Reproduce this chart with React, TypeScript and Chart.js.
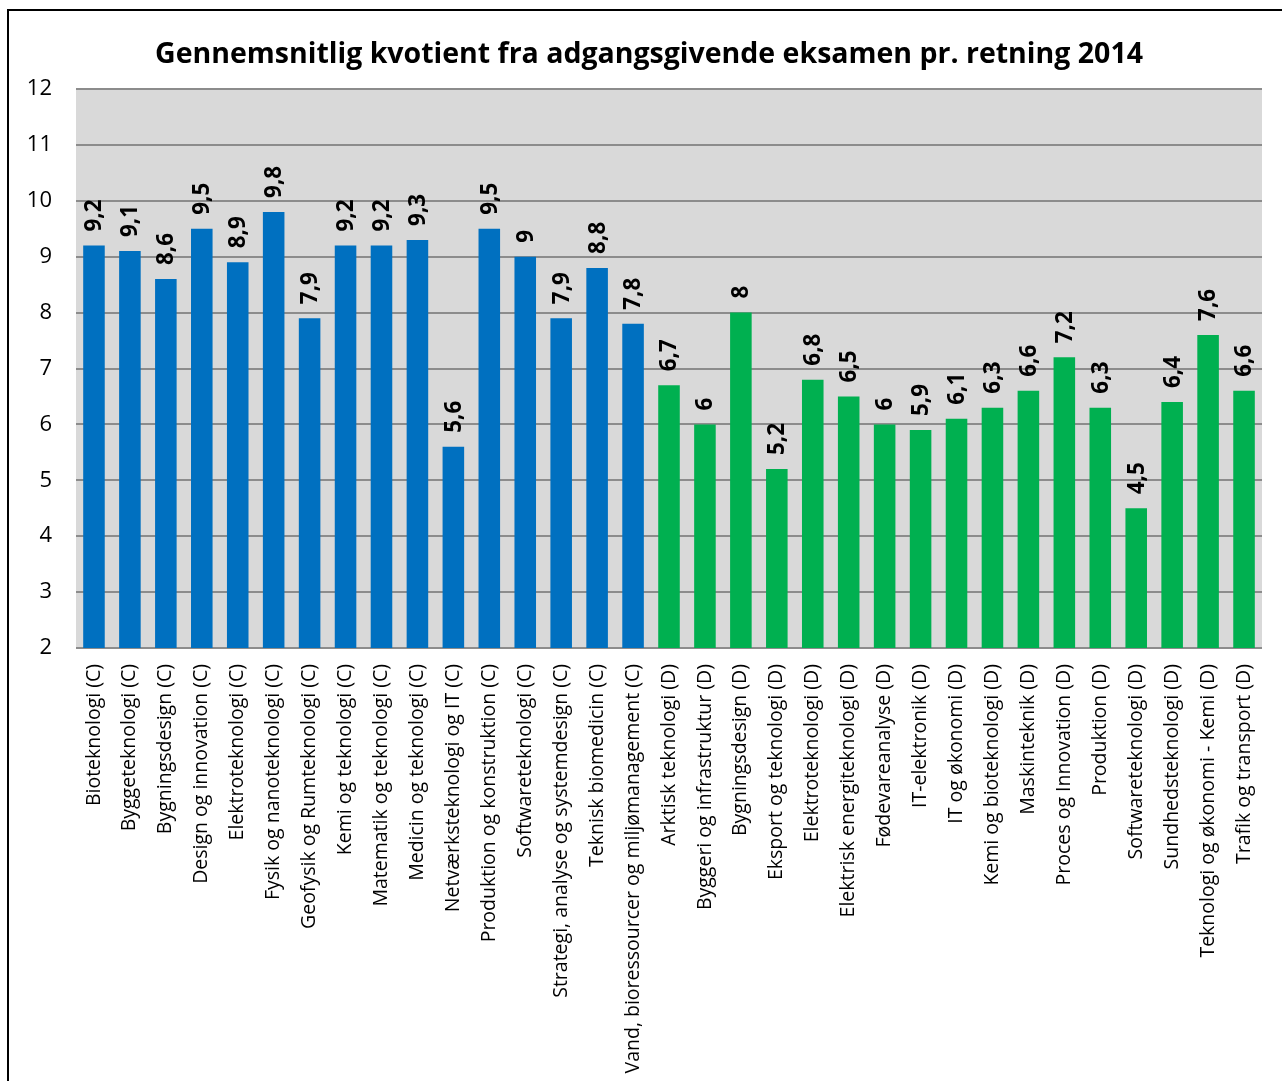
import React, { useEffect, useRef } from "react";
import { Chart, registerables } from "chart.js";

Chart.register(...registerables);

const categoriesC = [
  "Bioteknologi (C)",
  "Byggeteknologi (C)",
  "Bygningsdesign (C)",
  "Design og innovation (C)",
  "Elektroteknologi (C)",
  "Fysik og nanoteknologi (C)",
  "Geofysik og Rumteknologi (C)",
  "Kemi og teknologi (C)",
  "Matematik og teknologi (C)",
  "Medicin og teknologi (C)",
  "Netværksteknologi og IT (C)",
  "Produktion og konstruktion (C)",
  "Softwareteknologi (C)",
  "Strategi, analyse og systemdesign (C)",
  "Teknisk biomedicin (C)",
  "Vand, bioressourcer og miljømanagement (C)",
];
const valuesC = [9.2, 9.1, 8.6, 9.5, 8.9, 9.8, 7.9, 9.2, 9.2, 9.3, 5.6, 9.5, 9, 7.9, 8.8, 7.8];

const categoriesD = [
  "Arktisk teknologi (D)",
  "Byggeri og infrastruktur (D)",
  "Bygningsdesign (D)",
  "Eksport og teknologi (D)",
  "Elektroteknologi (D)",
  "Elektrisk energiteknologi (D)",
  "Fødevareanalyse (D)",
  "IT-elektronik (D)",
  "IT og økonomi (D)",
  "Kemi og bioteknologi (D)",
  "Maskinteknik (D)",
  "Proces og Innovation (D)",
  "Produktion (D)",
  "Softwareteknologi (D)",
  "Sundhedsteknologi (D)",
  "Teknologi og økonomi - Kemi (D)",
  "Trafik og transport (D)",
];
const valuesD = [6.7, 6, 8, 5.2, 6.8, 6.5, 6, 5.9, 6.1, 6.3, 6.6, 7.2, 6.3, 4.5, 6.4, 7.6, 6.6];

const yTicks = [2, 3, 4, 5, 6, 7, 8, 9, 10, 11, 12];
const title = "Gennemsnitlig kvotient fra adgangsgivende eksamen pr. retning 2014";

const FONT = "'Open Sans', Lato, sans-serif";
const BLUE = "#0070C0";
const GREEN = "#00B050";

export default function App() {
  const ref = useRef<HTMLCanvasElement | null>(null);

  useEffect(() => {
    if (!ref.current) return;
    const labels = [...categoriesC, ...categoriesD];
    const data = [...valuesC, ...valuesD];
    const colors = [...valuesC.map(() => BLUE), ...valuesD.map(() => GREEN)];

    const bgPlugin = {
      id: "plotBg",
      beforeDraw(chart: any) {
        const { ctx, chartArea } = chart;
        ctx.save();
        ctx.fillStyle = "#d9d9d9";
        ctx.fillRect(chartArea.left, chartArea.top, chartArea.right - chartArea.left, chartArea.bottom - chartArea.top);
        ctx.restore();
      },
    };

    const titlePlugin = {
      id: "chartTitle",
      afterDraw(chart: any) {
        const { ctx } = chart;
        ctx.save();
        ctx.font = `bold 28.5px ${FONT}`;
        ctx.fillStyle = "#000";
        ctx.textAlign = "center";
        ctx.textBaseline = "middle";
        ctx.fillText(title, 649, 55);
        ctx.restore();
      },
    };

    const labelPlugin = {
      id: "valueLabels",
      afterDatasetsDraw(chart: any) {
        const { ctx } = chart;
        const meta = chart.getDatasetMeta(0);
        ctx.save();
        ctx.font = `bold 22.5px ${FONT}`;
        ctx.fillStyle = "#000";
        ctx.textAlign = "left";
        ctx.textBaseline = "middle";
        meta.data.forEach((bar: any, i: number) => {
          const v = data[i];
          const txt = String(v).replace(".", ",");
          ctx.save();
          ctx.translate(bar.x + 1, bar.y - 14);
          ctx.rotate(-Math.PI / 2);
          ctx.fillText(txt, 0, 0);
          ctx.restore();
        });
        ctx.restore();
      },
    };

    const chart = new Chart(ref.current, {
      type: "bar",
      data: {
        labels,
        datasets: [
          {
            data,
            backgroundColor: colors,
            categoryPercentage: 1,
            barPercentage: 0.6,
          },
        ],
      },
      options: {
        animation: false,
        responsive: false,
        maintainAspectRatio: false,
        layout: { padding: { left: 0, right: 20, top: 89, bottom: 0 } },
        plugins: {
          legend: { display: false },
          tooltip: { enabled: false },
          title: { display: false },
        },
        scales: {
          x: {
            grid: { display: false },
            border: { display: false },
            ticks: {
              autoSkip: false,
              maxRotation: 90,
              minRotation: 90,
              color: "#000",
              padding: 8,
              font: { family: FONT, size: 19.5 },
            },
            afterFit(scale: any) {
              scale.height = 1081 - 648;
            },
          },
          y: {
            min: 2,
            max: 12,
            afterBuildTicks(scale: any) {
              scale.ticks = yTicks.map((v) => ({ value: v }));
            },
            grid: { color: "#8c8c8c", lineWidth: 2, drawTicks: false },
            border: { display: false },
            ticks: {
              color: "#000",
              padding: 24,
              font: { family: FONT, size: 22 },
            },
            afterFit(scale: any) {
              scale.width = 76;
            },
          },
        },
      },
      plugins: [bgPlugin, labelPlugin, titlePlugin],
    });
    return () => chart.destroy();
  }, []);

  return (
    <div style={{ position: "fixed", left: 0, top: 0, width: 1282, height: 1081, overflow: "hidden", background: "#fff" }}>
      <canvas ref={ref} width={1282} height={1081} style={{ position: "absolute", left: 0, top: 0 }} />
      <div
        style={{
          position: "absolute",
          left: 7,
          top: 9,
          width: 1300,
          height: 1200,
          border: "2px solid #000",
          pointerEvents: "none",
        }}
      />
    </div>
  );
}
